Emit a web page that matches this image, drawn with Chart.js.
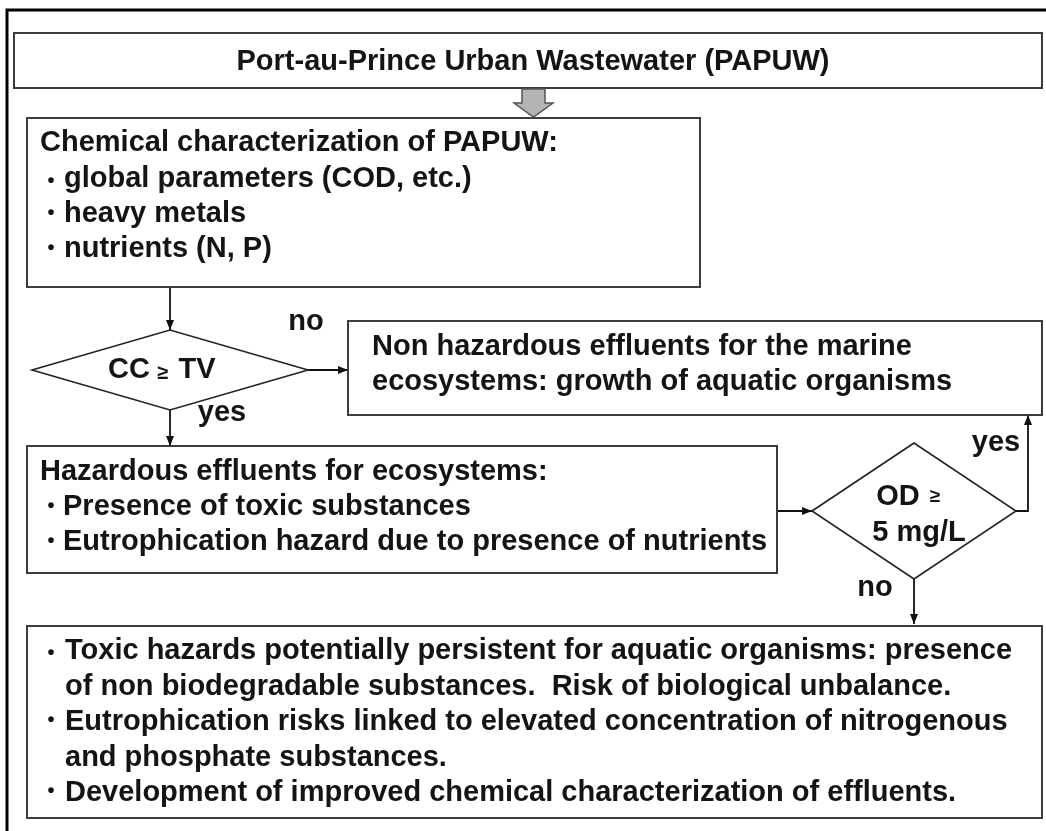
<!DOCTYPE html>
<html>
<head>
<meta charset="utf-8">
<script src="https://cdn.jsdelivr.net/npm/chart.js@4.4.1/dist/chart.umd.min.js"></script>
<style>
  body { margin: 0; background: #fff; }
  #wrap { width: 1046px; height: 831px; }
</style>
</head>
<body>
<div id="wrap"><canvas id="flow" width="1046" height="831"></canvas></div>
<script>
// texts of the flowchart
const titleText = 'Port-au-Prince Urban Wastewater (PAPUW)';
const chemHeader = 'Chemical characterization of PAPUW:';
const chemItems = ['global parameters (COD, etc.)', 'heavy metals', 'nutrients (N, P)'];
const decisionOne = ['CC', '≥', 'TV'];
const safeLines = ['Non hazardous effluents for the marine', 'ecosystems: growth of aquatic organisms'];
const hazardHeader = 'Hazardous effluents for ecosystems:';
const hazardItems = ['Presence of toxic substances', 'Eutrophication hazard due to presence of nutrients'];
const decisionTwo = ['OD', '≥', '5 mg/L'];
const outcomeItems = [
  ['Toxic hazards potentially persistent for aquatic organisms: presence', 'of non biodegradable substances.  Risk of biological unbalance.'],
  ['Eutrophication risks linked to elevated concentration of nitrogenous', 'and phosphate substances.'],
  ['Development of improved chemical characterization of effluents.']
];
const branchLabels = ['no', 'yes', 'yes', 'no'];

// layout, in page units (x right, y down)
const boxes = {
  title:   {x0: 14,  y0: 33,  x1: 1042, y1: 88},
  chem:    {x0: 27,  y0: 118, x1: 700,  y1: 287},
  safe:    {x0: 348, y0: 321, x1: 1042, y1: 415},
  hazard:  {x0: 27,  y0: 446, x1: 777,  y1: 573},
  outcome: {x0: 27,  y0: 626, x1: 1042, y1: 818}
};
const diamonds = {
  cc: {cx: 170, cy: 370, hw: 138, hh: 40},
  od: {cx: 914, cy: 511, hw: 102, hh: 68}
};
const connectors = [
  [[170, 287], [170, 330]],
  [[308, 370], [348, 370]],
  [[170, 410], [170, 446]],
  [[777, 511], [812, 511]],
  [[1016, 511], [1028, 511], [1028, 415]],
  [[914, 579], [914, 624]]
];
const labelPos = [[306, 322], [222, 413], [996, 443], [875, 588]];

const FONT = '"Liberation Sans", Arial, sans-serif';
const SIZE = 29;
const INK = '#141414';
const EDGE = '#3c3c3c';

const flowPlugin = {
  id: 'flow',
  afterDatasetsDraw(chart) {
    const ctx = chart.ctx;
    const X = v => chart.scales.x.getPixelForValue(v);
    const Y = v => chart.scales.y.getPixelForValue(v);

    // outer frame
    ctx.save();
    ctx.strokeStyle = '#000';
    ctx.lineWidth = 3;
    ctx.strokeRect(X(7), Y(10), X(1060) - X(7), Y(845) - Y(10));

    // boxes
    ctx.strokeStyle = EDGE;
    ctx.lineWidth = 2;
    Object.values(boxes).forEach(b => {
      ctx.strokeRect(X(b.x0), Y(b.y0), X(b.x1) - X(b.x0), Y(b.y1) - Y(b.y0));
    });
    ctx.lineWidth = 1.6;
    ctx.strokeStyle = '#222';
    Object.values(diamonds).forEach(d => {
      ctx.beginPath();
      ctx.moveTo(X(d.cx - d.hw), Y(d.cy));
      ctx.lineTo(X(d.cx), Y(d.cy - d.hh));
      ctx.lineTo(X(d.cx + d.hw), Y(d.cy));
      ctx.lineTo(X(d.cx), Y(d.cy + d.hh));
      ctx.closePath();
      ctx.stroke();
    });

    // grey block arrow under title
    ctx.fillStyle = '#b4b4b4';
    ctx.strokeStyle = '#555';
    ctx.lineWidth = 1.5;
    ctx.beginPath();
    ctx.moveTo(X(522), Y(89));
    ctx.lineTo(X(545), Y(89));
    ctx.lineTo(X(545), Y(103));
    ctx.lineTo(X(553), Y(103));
    ctx.lineTo(X(533.5), Y(117));
    ctx.lineTo(X(514), Y(103));
    ctx.lineTo(X(522), Y(103));
    ctx.closePath();
    ctx.fill();
    ctx.stroke();

    // arrowheads at connector ends
    ctx.fillStyle = '#111';
    connectors.forEach(c => {
      const a = c[c.length - 2], b = c[c.length - 1];
      const ang = Math.atan2(Y(b[1]) - Y(a[1]), X(b[0]) - X(a[0]));
      const L = 10, W = 4;
      ctx.beginPath();
      ctx.moveTo(X(b[0]), Y(b[1]));
      ctx.lineTo(X(b[0]) - L * Math.cos(ang) + W * Math.sin(ang), Y(b[1]) - L * Math.sin(ang) - W * Math.cos(ang));
      ctx.lineTo(X(b[0]) - L * Math.cos(ang) - W * Math.sin(ang), Y(b[1]) - L * Math.sin(ang) + W * Math.cos(ang));
      ctx.closePath();
      ctx.fill();
    });

    // texts
    ctx.fillStyle = INK;
    ctx.textBaseline = 'middle';
    const txt = (s, x, y, size, align) => {
      ctx.font = 'bold ' + size + 'px ' + FONT;
      ctx.textAlign = align || 'left';
      ctx.fillText(s, X(x), Y(y));
    };
    const bullet = (x, y) => txt('•', x, y, 20, 'center');

    txt(titleText, 533, 62, SIZE, 'center');

    txt(chemHeader, 40, 143, SIZE);
    chemItems.forEach((s, i) => {
      bullet(51, 179 + i * 35 + (i === 0 ? 2 : -1));
      txt(s, 64, 179 + i * 35, SIZE);
    });

    txt(decisionOne[0], 129, 370, SIZE, 'center');
    txt(decisionOne[1], 163, 373, 20, 'center');
    txt(decisionOne[2], 197, 370, SIZE, 'center');

    safeLines.forEach((s, i) => txt(s, 372, 347 + i * 35, SIZE));

    txt(hazardHeader, 40, 472, SIZE);
    hazardItems.forEach((s, i) => {
      bullet(51, 507 + i * 35 - 1);
      txt(s, 63, 507 + i * 35, SIZE);
    });

    txt(decisionTwo[0], 898, 497, SIZE, 'center');
    txt(decisionTwo[1], 935, 497, 19, 'center');
    txt(decisionTwo[2], 919, 533, SIZE, 'center');

    let row = 0;
    outcomeItems.forEach(item => {
      item.forEach((s, j) => {
        const y = 651 + row * 35.5;
        if (j === 0) bullet(51, y + (row === 0 ? 2 : -2));
        txt(s, 65, y, SIZE);
        row++;
      });
    });

    branchLabels.forEach((s, i) => txt(s, labelPos[i][0], labelPos[i][1], SIZE, 'center'));
    ctx.restore();
  }
};

new Chart(document.getElementById('flow'), {
  type: 'scatter',
  data: {
    datasets: connectors.map(c => ({
      data: c.map(p => ({x: p[0], y: p[1]})),
      showLine: true,
      borderColor: '#111',
      borderWidth: 1.8,
      pointRadius: 0,
      fill: false
    }))
  },
  options: {
    responsive: false,
    animation: false,
    layout: {padding: 0},
    plugins: {legend: {display: false}, tooltip: {enabled: false}},
    scales: {
      x: {type: 'linear', min: 0, max: 1046, display: false},
      y: {type: 'linear', min: 0, max: 831, reverse: true, display: false}
    }
  },
  plugins: [flowPlugin]
});
</script>
</body>
</html>
